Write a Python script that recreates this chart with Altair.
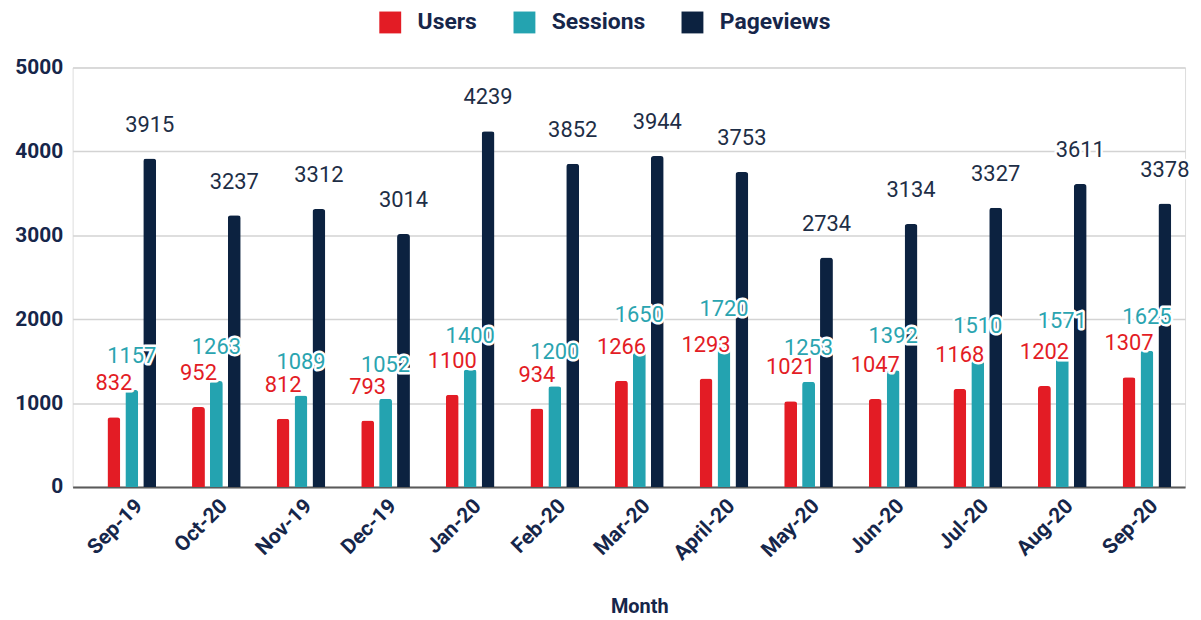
import altair as alt
import pandas as pd

months = ["Sep-19", "Oct-20", "Nov-19", "Dec-19", "Jan-20", "Feb-20", "Mar-20",
          "April-20", "May-20", "Jun-20", "Jul-20", "Aug-20", "Sep-20"]
series = ["Users", "Sessions", "Pageviews"]
users = [832, 952, 812, 793, 1100, 934, 1266, 1293, 1021, 1047, 1168, 1202, 1307]
sessions = [1157, 1263, 1089, 1052, 1400, 1200, 1650, 1720, 1253, 1392, 1510, 1571, 1625]
pageviews = [3915, 3237, 3312, 3014, 4239, 3852, 3944, 3753, 2734, 3134, 3327, 3611, 3378]

bar_colors = ["#e31c25", "#24a3b0", "#0c2240"]
label_colors = ["#e31c25", "#2aa4b0", "#1e2e46"]

rows = []
for name, vals, lc in zip(series, [users, sessions, pageviews], label_colors):
    for m, v in zip(months, vals):
        rows.append({"Month": m, "Series": name, "Value": v, "LabelColor": lc})
df = pd.DataFrame(rows)

FONT = "Roboto"
NAVY = "#16264a"

x_enc = alt.X("Month:N", sort=months, title="Month",
              scale=alt.Scale(paddingInner=0.424, paddingOuter=0.287, align=0.717),
              axis=alt.Axis(labelAngle=-45, labelFont=FONT, labelFontSize=21,
                            labelFontWeight="bold", labelColor=NAVY, labelPadding=8,
                            ticks=False, domainColor="#5a5a5a", domainWidth=2,
                            titleFont=FONT, titleFontSize=20, titleFontWeight="bold",
                            titleColor=NAVY, titlePadding=33, titleX=570, grid=False))
xoff = alt.XOffset("Series:N", sort=series,
                   scale=alt.Scale(paddingInner=0.28, paddingOuter=0))
y_enc = alt.Y("Value:Q", title=None,
              scale=alt.Scale(domain=[0, 5000], nice=False),
              axis=alt.Axis(values=[0, 1000, 2000, 3000, 4000, 5000], format="d",
                            labelFont=FONT, labelFontSize=21, labelFontWeight="bold",
                            labelColor=NAVY, labelPadding=10, ticks=False, domain=False,
                            gridColor="#d3d3d3", gridWidth=1.5))

base = alt.Chart(df).encode(x=x_enc, xOffset=xoff, y=y_enc)

bars = base.mark_bar(cornerRadiusTopLeft=3, cornerRadiusTopRight=3).encode(
    color=alt.Color("Series:N", sort=series,
                    scale=alt.Scale(domain=series, range=bar_colors),
                    legend=alt.Legend(title=None, orient="none", direction="horizontal",
                                      legendX=308, legendY=-57, symbolType="square",
                                      symbolSize=484, symbolStrokeWidth=0,
                                      labelFont=FONT, labelFontSize=23,
                                      labelFontWeight="bold", labelColor=NAVY,
                                      labelOffset=16, columnPadding=36))
)

halo = base.mark_text(font=FONT, fontSize=22, baseline="alphabetic", dy=-27,
                      fill="white", stroke="white", strokeWidth=5,
                      strokeJoin="round").encode(text="Value:Q")
labels = base.mark_text(font=FONT, fontSize=22, baseline="alphabetic", dy=-27).encode(
    text="Value:Q", color=alt.Color("LabelColor:N", scale=None))

chart = alt.layer(bars, halo, labels).properties(
    width=1119, height=422,
    autosize=alt.AutoSizeParams(type="none"),
    padding={"left": 65, "top": 58, "right": 8, "bottom": 130},
).configure_view(stroke=None).configure(background="white")

chart.save("out.html", embed_options={"renderer": "svg", "actions": False})
